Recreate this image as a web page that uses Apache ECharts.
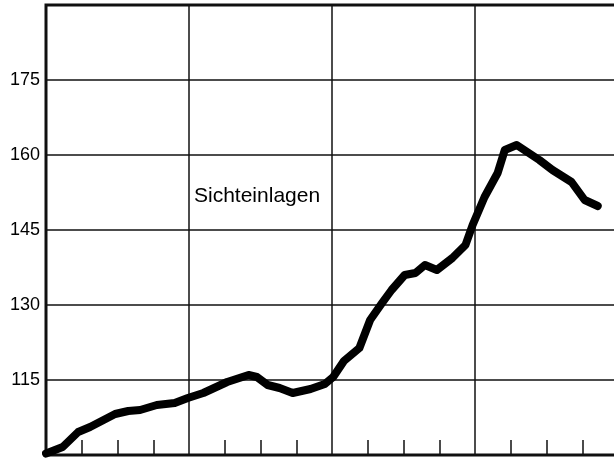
<!DOCTYPE html>
<html>
<head>
<meta charset="utf-8">
<script src="https://cdn.jsdelivr.net/npm/echarts@6/dist/echarts.min.js"></script>
<style>
  html, body { margin: 0; padding: 0; background: #fff; }
  #chart { width: 614px; height: 459px; }
</style>
</head>
<body>
<div id="chart"></div>
<script>
// month position (0 = start, 12 per year) and value of Sichteinlagen
var months = [0, 1.4, 2.7, 3.7, 5.8, 6.9, 7.9, 9.3, 10.8, 11.9, 13.2, 15.2, 17.0, 17.7, 18.6, 19.6,
  20.7, 22.2, 23.4, 24.1, 25.0, 26.3, 27.2, 28.2, 29.0, 30.1, 31.0, 31.8, 32.8, 34.1, 35.2,
  35.8, 36.8, 37.9, 38.5, 39.5, 41.4, 42.5, 44.1, 45.2, 46.3];
var values = [100.3, 101.6, 104.6, 105.6, 108.2, 108.8, 109.0, 110.0, 110.4, 111.4, 112.4, 114.6, 116.0, 115.6, 114.0, 113.4,
  112.4, 113.2, 114.2, 115.6, 118.8, 121.4, 127.0, 130.4, 133.0, 136.0, 136.4, 138.0, 137.0, 139.4, 142.0,
  146.0, 151.6, 156.4, 161.0, 162.0, 159.0, 157.0, 154.6, 151.0, 149.8];
var yTicks = [115, 130, 145, 160, 175];
var seriesLabel = "Sichteinlagen";

var points = months.map(function (m, i) { return [m, values[i]]; });

var chart = echarts.init(document.getElementById("chart"));

var option = {
  animation: false,
  grid: {
    left: 46,
    right: -4,
    top: 5,
    bottom: 4,
    outerBoundsMode: "none",
    show: true,
    borderColor: "#111",
    borderWidth: 3,
  },
  xAxis: {
    type: "value",
    min: 0,
    max: 48,
    interval: 12,
    axisLine: { show: false },
    axisTick: { show: false, inside: true },
    minorTick: {
      show: true,
      splitNumber: 4,
      length: 15,
      lineStyle: { color: "#111", width: 1.5 },
    },
    axisLabel: { show: false },
    splitLine: { show: true, lineStyle: { color: "#111", width: 1.5 } },
  },
  yAxis: {
    type: "value",
    min: 100,
    max: 190,
    interval: 15,
    axisLine: { show: false },
    axisTick: { show: false },
    axisLabel: {
      color: "#000",
      fontSize: 18,
      fontFamily: "Liberation Sans, Arial, sans-serif",
      margin: 6,
      formatter: function (v) {
        return yTicks.indexOf(v) >= 0 ? String(v) : "";
      },
    },
    splitLine: { show: true, lineStyle: { color: "#111", width: 1.5 } },
  },
  graphic: [
    {
      type: "text",
      left: 194,
      top: 186,
      style: {
        text: seriesLabel,
        fill: "#000",
        fontSize: 21,
        fontFamily: "Liberation Sans, Arial, sans-serif",
      },
    },
  ],
  series: [
    {
      type: "line",
      data: points,
      symbol: "none",
      lineStyle: { color: "#000", width: 8, join: "round", cap: "round" },
    },
  ],
};

chart.setOption(option);
</script>
</body>
</html>
